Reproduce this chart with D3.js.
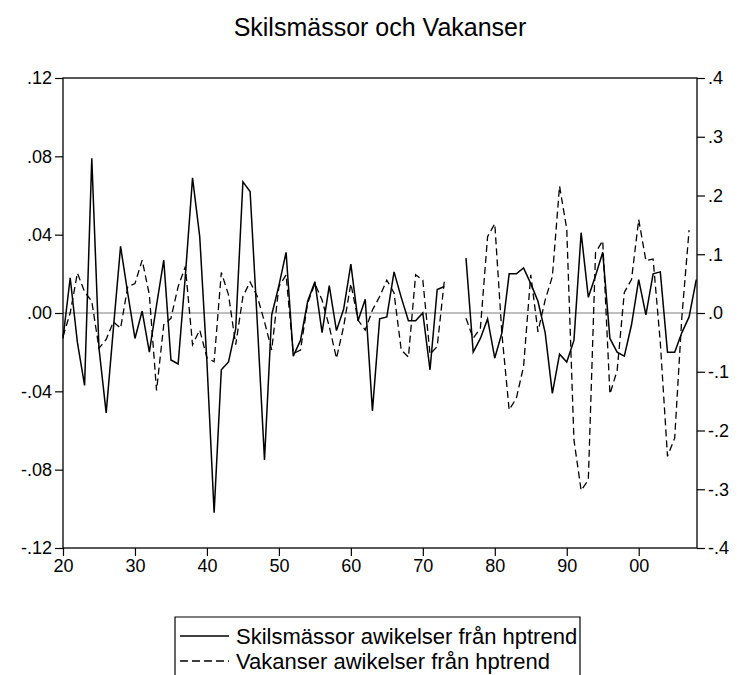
<!DOCTYPE html>
<html>
<head>
<meta charset="utf-8">
<script src="https://cdn.jsdelivr.net/npm/d3@7"></script>
<style>
  body { margin: 0; background: #fff; }
  text { font-family: "Liberation Sans", Arial, sans-serif; fill: #000; }
</style>
</head>
<body>
<script>
// years 1920..2008, null = missing observation
var years = d3.range(1920, 2009);

var skilsmassor = [
  -0.013, 0.018, -0.015, -0.037, 0.079, -0.018, -0.051, -0.008, 0.034, 0.010,
  -0.013, 0.001, -0.020, 0.004, 0.027, -0.024, -0.026, 0.019, 0.069, 0.039,
  -0.025, -0.102, -0.029, -0.025, -0.008, 0.067, 0.062, -0.005, -0.075, -0.001,
  0.014, 0.031, -0.022, -0.014, 0.006, 0.016, -0.010, 0.014, -0.009, 0.002,
  0.025, -0.004, 0.007, -0.050, -0.003, -0.002, 0.021, 0.008, -0.004, -0.004,
  0.000, -0.029, 0.012, 0.0135, null, null, 0.028, -0.020, -0.013, -0.003,
  -0.023, -0.010, 0.020, 0.020, 0.023, 0.015, 0.006, -0.010, -0.041, -0.021,
  -0.025, -0.014, 0.041, 0.008, 0.019, 0.031, -0.013, -0.020, -0.022, -0.006,
  0.017, -0.001, 0.020, 0.021, -0.020, -0.020, -0.010, -0.002, 0.017
];

var vakanser = [
  -0.040, 0.000, 0.068, 0.036, 0.020, -0.060, -0.045, -0.015, -0.026, 0.045,
  0.050, 0.090, 0.031, -0.132, -0.020, -0.009, 0.045, 0.079, -0.054, -0.029,
  -0.076, -0.083, 0.069, 0.031, -0.054, 0.028, 0.053, 0.028, -0.015, -0.063,
  0.045, 0.065, -0.069, -0.063, 0.017, 0.050, 0.022, -0.023, -0.077, -0.023,
  0.050, -0.012, -0.029, 0.005, 0.028, 0.056, 0.034, -0.063, -0.075, 0.065,
  0.056, -0.070, -0.057, 0.056, null, null, -0.009, -0.043, -0.026, 0.130,
  0.152, -0.037, -0.165, -0.145, -0.091, 0.065, -0.032, 0.022, 0.062, 0.216,
  0.143, -0.216, -0.302, -0.284, 0.103, 0.123, -0.138, -0.098, 0.035, 0.057,
  0.159, 0.089, 0.092, -0.050, -0.244, -0.213, -0.006, 0.141, null
];

var leftTicks = [-0.12, -0.08, -0.04, 0, 0.04, 0.08, 0.12];
var rightTicks = [-0.4, -0.3, -0.2, -0.1, 0, 0.1, 0.2, 0.3, 0.4];
var xTicks = [1920, 1930, 1940, 1950, 1960, 1970, 1980, 1990, 2000];
var legendLabels = ["Skilsmässor awikelser från hptrend", "Vakanser awikelser från hptrend"];

var W = 739, H = 675;
var margin = { top: 78, right: 42, bottom: 127, left: 63 };
var width = W - margin.left - margin.right,
    height = H - margin.top - margin.bottom;

var svg = d3.select("body").append("svg")
  .attr("width", W)
  .attr("height", H);

var g = svg.append("g")
  .attr("transform", "translate(" + margin.left + "," + margin.top + ")");

var x = d3.scaleLinear().domain([1920, 2008.1]).range([0, width]),
    yL = d3.scaleLinear().domain([-0.12, 0.12]).range([height, 0]),
    yR = d3.scaleLinear().domain([-0.4, 0.4]).range([height, 0]);

// eviews style labels: ".12", "-.04", ".0"
function fmtL(v) { return d3.format(".2f")(v).replace("\u2212", "-").replace("0.", "."); }
function fmtR(v) { return v === 0 ? ".0" : d3.format(".1f")(v).replace("\u2212", "-").replace("0.", "."); }

// zero line
g.append("line")
  .attr("x1", 0).attr("x2", width)
  .attr("y1", yL(0)).attr("y2", yL(0))
  .attr("stroke", "#7f7f7f").attr("stroke-width", 1.2);

var lineL = d3.line()
  .defined(function (d) { return d.v !== null; })
  .x(function (d) { return x(d.year); })
  .y(function (d) { return yL(d.v); });

var lineR = d3.line()
  .defined(function (d) { return d.v !== null; })
  .x(function (d) { return x(d.year); })
  .y(function (d) { return yR(d.v); });

var s1 = years.map(function (yr, i) { return { year: yr, v: skilsmassor[i] }; });
var s2 = years.map(function (yr, i) { return { year: yr, v: vakanser[i] }; });

g.append("path")
  .datum(s2)
  .attr("d", lineR)
  .attr("fill", "none")
  .attr("stroke", "#000")
  .attr("stroke-width", 1.3)
  .attr("stroke-dasharray", "7,4");

g.append("path")
  .datum(s1)
  .attr("d", lineL)
  .attr("fill", "none")
  .attr("stroke", "#000")
  .attr("stroke-width", 1.5);

// frame
g.append("rect")
  .attr("width", width).attr("height", height)
  .attr("fill", "none").attr("stroke", "#000").attr("stroke-width", 1.3);

// axes
var axL = g.append("g")
  .call(d3.axisLeft(yL).tickValues(leftTicks).tickSize(8).tickPadding(3).tickFormat(fmtL));
var axR = g.append("g")
  .attr("transform", "translate(" + width + ",0)")
  .call(d3.axisRight(yR).tickValues(rightTicks).tickSize(8).tickPadding(3).tickFormat(fmtR));
var axB = g.append("g")
  .attr("transform", "translate(0," + height + ")")
  .call(d3.axisBottom(x).tickValues(xTicks).tickSize(8).tickPadding(3)
    .tickFormat(function (d) { return d3.format("02d")(d % 100); }));

[axL, axR, axB].forEach(function (a) {
  a.select(".domain").remove();
  a.selectAll("line").attr("stroke", "#000").attr("stroke-width", 1.2);
  a.selectAll("text").style("font-size", "18px")
    .style("font-family", "'Liberation Sans', Arial, sans-serif");
});

// title
svg.append("text")
  .attr("x", 380).attr("y", 36)
  .attr("text-anchor", "middle")
  .style("font-size", "25px")
  .text("Skilsmässor och Vakanser");

// legend
var lg = svg.append("g").attr("transform", "translate(175,617)");
lg.append("path")
  .attr("d", "M0,60 V0 H405 V60")
  .attr("fill", "none").attr("stroke", "#000").attr("stroke-width", 1.2);

legendLabels.forEach(function (t, i) {
  var yy = 19 + i * 25;
  lg.append("line")
    .attr("x1", 5).attr("x2", 54)
    .attr("y1", yy).attr("y2", yy)
    .attr("stroke", "#000").attr("stroke-width", 1.3)
    .attr("stroke-dasharray", i === 1 ? "8,4" : null);
  lg.append("text")
    .attr("x", 61).attr("y", yy + 8)
    .style("font-size", "22px")
    .text(t);
});
</script>
</body>
</html>
